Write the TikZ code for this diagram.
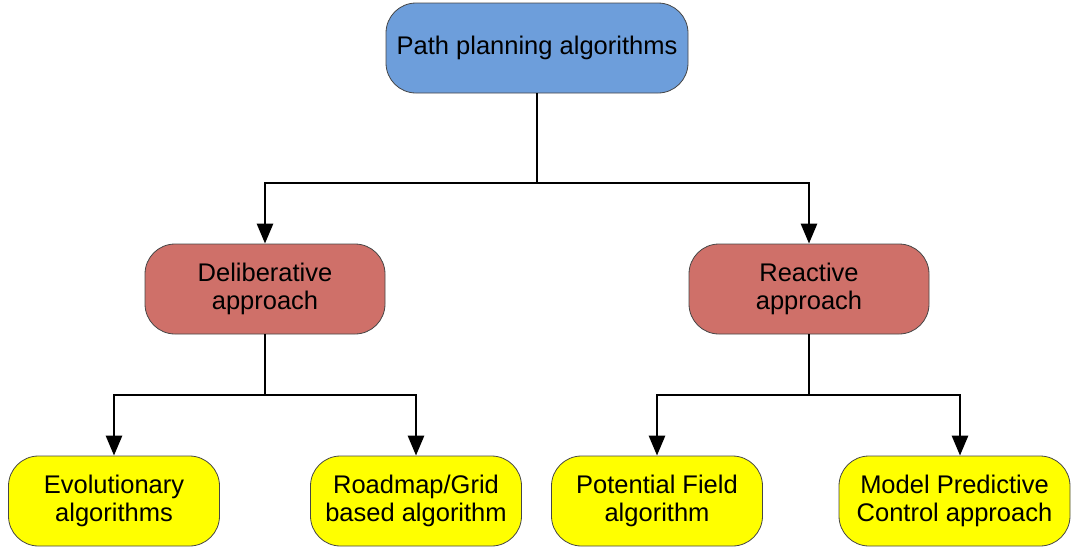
\documentclass[tikz,border=0pt]{standalone}
\usepackage{fontspec}
\setmainfont{Liberation Sans}
\usetikzlibrary{arrows.meta}
\definecolor{topblue}{RGB}{109,158,219}
\definecolor{midred}{RGB}{207,112,105}
\definecolor{leafyellow}{RGB}{255,255,0}
\definecolor{edgegray}{RGB}{70,70,70}
\begin{document}
\begin{tikzpicture}[x=1pt,y=-1pt,
  box/.style={draw=edgegray,line width=0.8pt,rounded corners=30pt,align=center,
    inner sep=0pt,font=\fontsize{25.5}{31}\selectfont},
  topbox/.style={box,fill=topblue,minimum width=302pt,minimum height=90pt},
  midbox/.style={box,fill=midred,minimum width=240pt,minimum height=90pt},
  leafbox/.style={box,fill=leafyellow,minimum width=211pt,minimum height=90pt},
  conn/.style={line width=2.8pt},
  arr/.style={conn,-{Triangle[length=20pt,width=16pt]}}]
\useasboundingbox (0,0) rectangle (1072,549);
\node[topbox] (top) at (537,48) {Path planning algorithms};
\node[midbox] (del) at (265,289) {\raisebox{-2pt}{\begin{tabular}{@{}c@{}}Deliberative\\[-3pt]approach\end{tabular}}};
\node[midbox] (rea) at (809,289) {\raisebox{-2pt}{\begin{tabular}{@{}c@{}}Reactive\\[-3pt]approach\end{tabular}}};
\node[leafbox] (evo) at (114,501) {\raisebox{-2pt}{\begin{tabular}{@{}c@{}}Evolutionary\\[-3pt]algorithms\end{tabular}}};
\node[leafbox] (road) at (416,501) {\raisebox{-2pt}{\begin{tabular}{@{}c@{}}Roadmap/Grid\\[-3pt]based algorithm\end{tabular}}};
\node[leafbox] (pot) at (657,501) {\raisebox{-2pt}{\begin{tabular}{@{}c@{}}Potential Field\\[-3pt]algorithm\end{tabular}}};
\node[leafbox,minimum width=231pt] (mpc) at (954.5,501) {\raisebox{-2pt}{\begin{tabular}{@{}c@{}}Model Predictive\\[-3pt]Control approach\end{tabular}}};
\coordinate (j0) at (537,183);
\coordinate (j1) at (265,395);
\coordinate (j2) at (809,395);
\draw[conn] (top.south) -- (j0);
\draw[arr] (j0) -| (del.north);
\draw[arr] (j0) -| (rea.north);
\draw[conn] (del.south) -- (j1);
\draw[arr] (j1) -| (evo.north);
\draw[arr] (j1) -| (road.north);
\draw[conn] (rea.south) -- (j2);
\draw[arr] (j2) -| (pot.north);
\draw[arr] (j2) -| ([xshift=5.5pt]mpc.north);
\end{tikzpicture}
\end{document}
